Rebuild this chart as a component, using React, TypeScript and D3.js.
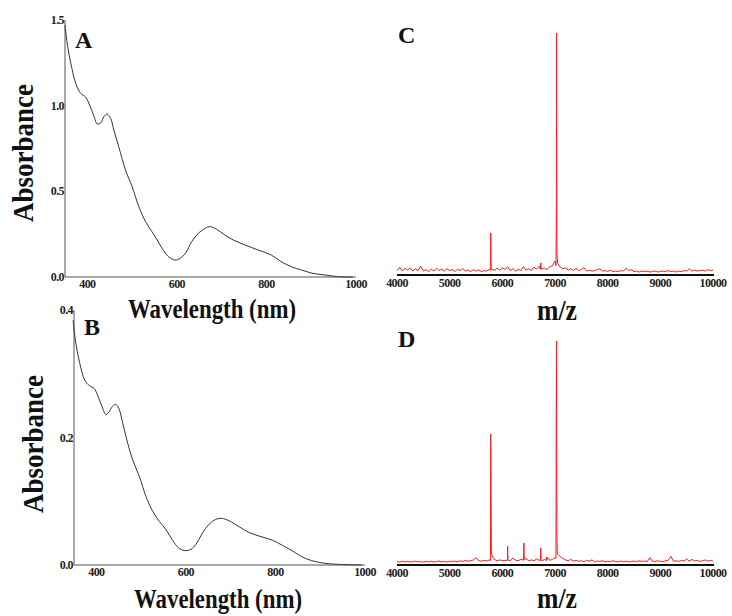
import React from "react";
import * as d3 from "d3";

// ---------- Data ----------
const wlA = [350, 356, 363, 374, 385, 396, 404, 415, 422, 430, 437, 444, 452, 459, 470, 485, 500, 515, 530, 544, 556, 567, 581, 596, 607, 619, 633, 648, 663, 674, 689, 707, 726, 752, 781, 811, 833, 856, 878, 904, 930, 959, 993];
const absA = [1.47, 1.344, 1.247, 1.13, 1.072, 1.05, 1.01, 0.936, 0.893, 0.9, 0.936, 0.951, 0.926, 0.858, 0.761, 0.625, 0.527, 0.41, 0.323, 0.265, 0.216, 0.167, 0.119, 0.099, 0.109, 0.138, 0.206, 0.255, 0.284, 0.294, 0.278, 0.245, 0.216, 0.187, 0.158, 0.128, 0.089, 0.06, 0.041, 0.021, 0.012, 0.002, 0];

const wlB = [348, 354, 363, 374, 385, 395, 404, 413, 421, 428, 436, 443, 450, 459, 470, 481, 496, 511, 526, 541, 556, 570, 585, 600, 611, 622, 637, 652, 667, 680, 696, 719, 741, 770, 793, 815, 837, 859, 881, 911, 941, 993];
const absB = [0.384, 0.348, 0.316, 0.29, 0.281, 0.277, 0.264, 0.248, 0.236, 0.24, 0.249, 0.252, 0.246, 0.222, 0.191, 0.165, 0.139, 0.107, 0.084, 0.068, 0.055, 0.039, 0.026, 0.0225, 0.0245, 0.032, 0.05, 0.064, 0.0716, 0.0732, 0.0695, 0.06, 0.051, 0.044, 0.039, 0.031, 0.0225, 0.013, 0.0068, 0.0026, 0.001, 0];

const absTicksA = [0, 0.5, 1.0, 1.5];
const absTicksB = [0, 0.2, 0.4];
const wlTicks = [400, 600, 800, 1000];
const mzTicks = [4000, 5000, 6000, 7000, 8000, 9000, 10000];

// m/z noise sampled every 50 from 4000 to 10000 (relative intensity, %)
const mzStart = 4000;
const mzStep = 50;
const noiseC = [
  1.0, 2.4, 0.8, 2.0, 1.2, 2.2, 0.8, 1.8, 1.0, 2.8, 0.8,
  1.4, 0.6, 1.6, 0.8, 2.0, 1.0, 1.6, 0.8, 1.8, 1.0,
  1.4, 0.6, 1.6, 1.0, 1.8, 0.8, 1.2, 0.6, 1.4, 0.8,
  1.2, 0.6, 1.0, 0.8, 1.4, 1.6, 1.0, 2.0, 1.2, 2.2,
  1.4, 2.6, 1.0, 1.8, 0.8, 1.6, 1.0, 2.6, 1.2, 1.8,
  1.0, 2.4, 1.6, 2.8, 1.8, 2.0, 1.4, 2.6, 3.0, 5.0,
  4.0, 2.4, 1.8, 2.2, 1.2, 1.8, 1.0, 2.0, 1.0, 1.4,
  2.2, 0.8, 1.2, 0.8, 1.0, 1.4, 1.8, 0.8, 1.0, 0.6,
  1.2, 0.6, 0.8, 0.6, 1.0, 0.8, 2.0, 1.0, 1.4, 0.6,
  0.8, 0.4, 0.8, 0.6, 0.8, 0.4, 0.6, 0.8, 0.4, 0.6,
  0.8, 0.6, 1.0, 0.6, 0.8, 0.4, 0.8, 0.6, 1.0, 0.8,
  1.8, 0.8, 1.2, 0.8, 1.0, 1.2, 0.8, 1.4, 1.0, 1.2,
];
const peakMzC = [5774, 5780, 5786, 6724, 6730, 6736, 7018, 7026, 7030, 7036, 7044];
const peakIntC = [1.2, 16.7, 1.6, 1.5, 4.2, 1.8, 3.0, 25, 100, 10, 6];

const noiseD = [
  0.6, 0.4, 0.8, 0.5, 0.7, 0.4, 0.6, 0.8, 0.5, 0.6, 0.4,
  0.7, 0.5, 0.8, 0.4, 0.6, 0.9, 0.5, 0.7, 0.4, 0.8,
  0.6, 0.9, 0.5, 1.0, 0.7, 1.2, 0.8, 1.0, 1.4, 2.4,
  1.0, 0.8, 1.2, 0.9, 1.4, 3.5, 1.6, 1.0, 1.4, 1.0,
  1.2, 1.4, 1.0, 2.2, 1.2, 1.0, 1.6, 1.4, 2.0, 1.0,
  1.4, 1.0, 1.8, 1.2, 1.0, 1.6, 2.6, 1.2, 1.6, 2.4,
  4.0, 2.8, 2.0, 1.4, 1.0, 1.6, 0.8, 1.2, 0.8, 1.0,
  0.6, 1.2, 0.8, 1.4, 0.6, 0.9, 0.7, 1.0, 0.5, 0.8,
  0.6, 1.0, 0.7, 0.5, 0.9, 0.6, 0.8, 0.5, 0.7, 0.9,
  0.6, 1.0, 0.7, 0.9, 0.6, 2.4, 0.8, 0.7, 1.0, 0.8,
  0.6, 1.0, 1.2, 3.0, 0.8, 1.0, 0.7, 1.2, 0.9, 1.8,
  0.8, 1.6, 0.9, 1.2, 0.7, 1.0, 1.4, 0.8, 1.2, 0.9,
];
const peakMzD = [5774, 5780, 5786, 5792, 6094, 6100, 6106, 6404, 6410, 6416, 6724, 6730, 6736, 6834, 6840, 6846, 7018, 7026, 7030, 7036, 7044];
const peakIntD = [1.0, 58, 32, 6, 1.2, 7.7, 1.4, 1.2, 9, 1.6, 1.2, 6.8, 1.4, 1.2, 2.7, 1.2, 2.0, 80, 100, 12, 5];

// ---------- Helpers ----------
const FONT = '"Liberation Serif", "Times New Roman", serif';

function buildSpectrum(noise: number[], pMz: number[], pInt: number[]) {
  const pts: [number, number][] = noise.map((v, i) => [mzStart + i * mzStep, v]);
  pMz.forEach((m, i) => pts.push([m, pInt[i]]));
  pts.sort((a, b) => a[0] - b[0]);
  return pts;
}

type UVProps = {
  wl: number[]; ab: number[]; ticks: number[]; yMax: number;
  x0: number; x1: number; yTop: number; yBot: number;
  letter: string; letterX: number; letterY: number;
  titleX: number; titleCY: number; xlabCX: number; xlabY: number;
};

function UVPanel(p: UVProps) {
  const x = d3.scaleLinear().domain([350, 1000]).range([p.x0, p.x1]);
  const y = d3.scaleLinear().domain([0, p.yMax]).range([p.yBot, p.yTop]);
  const line = d3.line<number>().x((_, i) => x(p.wl[i])).y((d) => y(d)).curve(d3.curveCatmullRom);
  return (
    <g fontFamily={FONT} fontWeight="bold">
      <line x1={p.x0} x2={p.x0} y1={p.yTop} y2={p.yBot} stroke="#555" strokeWidth={1} />
      <line x1={p.x0} x2={p.x1} y1={p.yBot} y2={p.yBot} stroke="#555" strokeWidth={1} />
      {p.ticks.map((t) => (
        <text key={t} x={p.x0 - 1} y={y(t) + 4} textAnchor="end" fontSize={12} letterSpacing={-0.6} fill="#222">
          {t.toFixed(1)}
        </text>
      ))}
      {wlTicks.map((t) => (
        <text key={t} x={x(t)} y={p.yBot + 11} textAnchor="middle" fontSize={12} letterSpacing={-0.6} fill="#222">
          {t}
        </text>
      ))}
      <path d={line(p.ab) || ""} fill="none" stroke="#333" strokeWidth={1} />
      <text x={p.letterX} y={p.letterY} fontSize={24} fill="#111">{p.letter}</text>
      <text transform={`translate(${p.titleX},${p.titleCY}) rotate(-90)`} textAnchor="middle" fontSize={29} textLength={138} lengthAdjust="spacingAndGlyphs" fill="#111">
        Absorbance
      </text>
      <text x={p.xlabCX} y={p.xlabY} textAnchor="middle" fontSize={28} textLength={168} lengthAdjust="spacingAndGlyphs" fill="#111">
        Wavelength (nm)
      </text>
    </g>
  );
}

type MSProps = {
  pts: [number, number][]; yTop: number; yBase: number; axisY: number;
  letter: string; letterY: number; xlabY: number;
};

function MSPanel(p: MSProps) {
  const x = d3.scaleLinear().domain([4000, 10000]).range([397, 713]);
  const y = d3.scaleLinear().domain([0, 100]).range([p.yBase, p.yTop]);
  const line = d3.line<[number, number]>().x((d) => x(d[0])).y((d) => y(d[1]));
  return (
    <g fontFamily={FONT} fontWeight="bold">
      <line x1={x(4000)} x2={x(10000) + 1} y1={p.axisY} y2={p.axisY} stroke="#111" strokeWidth={2} />
      <path d={line(p.pts) || ""} fill="none" stroke="#ff1a1a" strokeWidth={1} />
      {mzTicks.map((t) => (
        <text key={t} x={x(t)} y={p.axisY + 12} textAnchor="middle" fontSize={12} letterSpacing={-0.6} fill="#222">
          {t}
        </text>
      ))}
      <text x={398} y={p.letterY} fontSize={24} fill="#111">{p.letter}</text>
      <text x={557} y={p.xlabY} textAnchor="middle" fontSize={30} textLength={40} lengthAdjust="spacingAndGlyphs" fill="#111">
        m/z
      </text>
    </g>
  );
}

export default function App() {
  const specC = buildSpectrum(noiseC, peakMzC, peakIntC);
  const specD = buildSpectrum(noiseD, peakMzD, peakIntD);
  return (
    <svg width={732} height={616} style={{ position: "absolute", left: 0, top: 0, background: "#fff" }}>
      <rect width={732} height={616} fill="#fff" />
      <UVPanel wl={wlA} ab={absA} ticks={absTicksA} yMax={1.5} x0={65} x1={356} yTop={20} yBot={277}
        letter="A" letterX={75} letterY={48} titleX={33} titleCY={153} xlabCX={212} xlabY={318} />
      <UVPanel wl={wlB} ab={absB} ticks={absTicksB} yMax={0.4} x0={74} x1={365} yTop={310} yBot={565}
        letter="B" letterX={84} letterY={335} titleX={43} titleCY={444} xlabCX={218} xlabY={608} />
      <MSPanel pts={specC} yTop={33} yBase={273} axisY={275} letter="C" letterY={43} xlabY={320} />
      <MSPanel pts={specD} yTop={341} yBase={563} axisY={565} letter="D" letterY={347} xlabY={608} />
    </svg>
  );
}
